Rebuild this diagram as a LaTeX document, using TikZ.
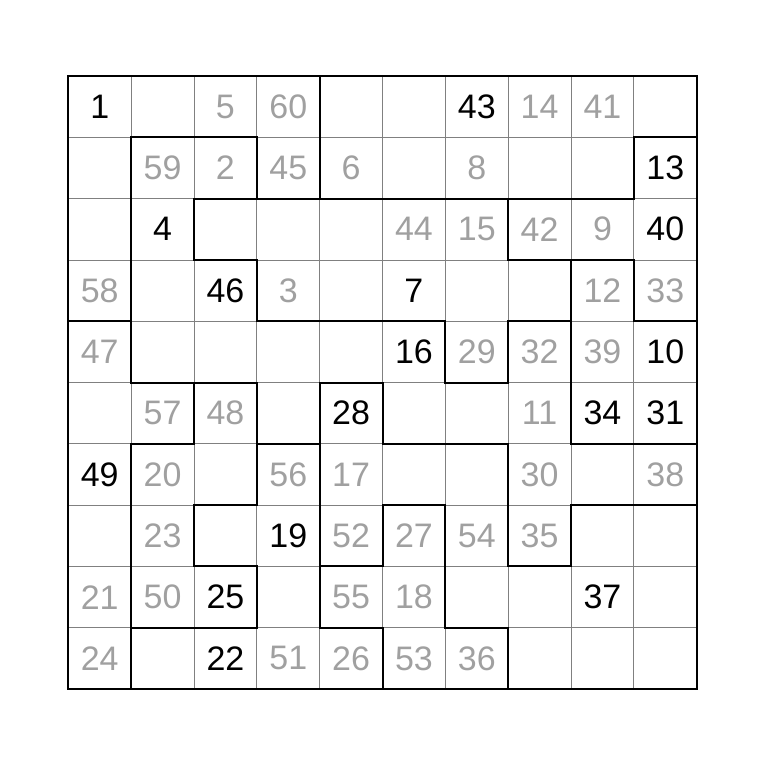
\documentclass[tikz,border=0pt]{standalone}
\usepackage{fontspec}
\setmainfont{Liberation Sans}
\definecolor{solgray}{RGB}{160,160,160}
\definecolor{gridgray}{RGB}{128,128,128}

\begin{document}
\begin{tikzpicture}[x=1.885cm, y=1.839cm,
    gridline/.style={gridgray, line width=0.75pt},
    wall/.style={black, line width=1.7pt, line cap=rect},
    given/.style={font=\fontsize{29}{29}\selectfont, text=black, inner sep=0pt},
    solved/.style={given, text=solgray}]
  \useasboundingbox (-1.087,1.240) rectangle (11.182,-11.240);
  %% \draw [help lines, opacity=0.5] (0,0) grid (10,-10);

  %% thin cell lines
  \foreach \i in {1,...,9} {
    \draw [gridline] (\i,0) -- (\i,-10);
    \draw [gridline] (0,-\i) -- (10,-\i);
  }

  %% region walls, horizontal: row line / column
  \foreach \r/\c in {1/1,1/2,1/9, 2/2,2/3,2/4,2/5,2/6,2/7,2/8, 3/2,3/7,3/8,
      4/0,4/3,4/4,4/5,4/7,4/9, 5/1,5/2,5/4,5/6, 6/1,6/3,6/5,6/6,6/8,6/9,
      7/2,7/5,7/8,7/9, 8/2,8/4,8/7, 9/1,9/2,9/4,9/6}
    \draw [wall] (\c,-\r) -- (\c+1,-\r);

  %% region walls, vertical: row / column line
  \foreach \r/\c in {0/4, 1/1,1/3,1/4,1/9, 2/1,2/2,2/7, 3/1,3/3,3/8,3/9,
      4/1,4/6,4/7,4/8, 5/2,5/3,5/4,5/5,5/8, 6/1,6/3,6/4,6/7,
      7/1,7/2,7/4,7/5,7/6,7/7,7/8, 8/1,8/3,8/4,8/6, 9/1,9/5,9/7}
    \draw [wall] (\c,-\r) -- (\c,-\r-1);

  \draw [wall] (0,0) rectangle (10,-10);

  %% clues
  \foreach \r/\c/\n in {0/0/1, 0/6/43, 1/9/13, 2/1/4, 2/9/40, 3/2/46, 3/5/7,
      4/5/16, 4/9/10, 5/4/28, 5/8/34, 5/9/31, 6/0/49, 7/3/19, 8/2/25,
      8/8/37, 9/2/22}
    \node [given] (n\n) at (\c+0.5,-\r-0.5) {\n};

  %% filled in
  \foreach \r/\c/\n in {0/2/5, 0/3/60, 0/7/14, 0/8/41,
      1/1/59, 1/2/2, 1/3/45, 1/4/6, 1/6/8,
      2/5/44, 2/6/15, 2/7/42, 2/8/9,
      3/0/58, 3/3/3, 3/8/12, 3/9/33,
      4/0/47, 4/6/29, 4/7/32, 4/8/39,
      5/1/57, 5/2/48, 5/7/11,
      6/1/20, 6/3/56, 6/4/17, 6/7/30, 6/9/38,
      7/1/23, 7/4/52, 7/5/27, 7/6/54, 7/7/35,
      8/0/21, 8/1/50, 8/4/55, 8/5/18,
      9/0/24, 9/3/51, 9/4/26, 9/5/53, 9/6/36}
    \node [solved] (n\n) at (\c+0.5,-\r-0.5) {\n};

\end{tikzpicture}
\end{document}
